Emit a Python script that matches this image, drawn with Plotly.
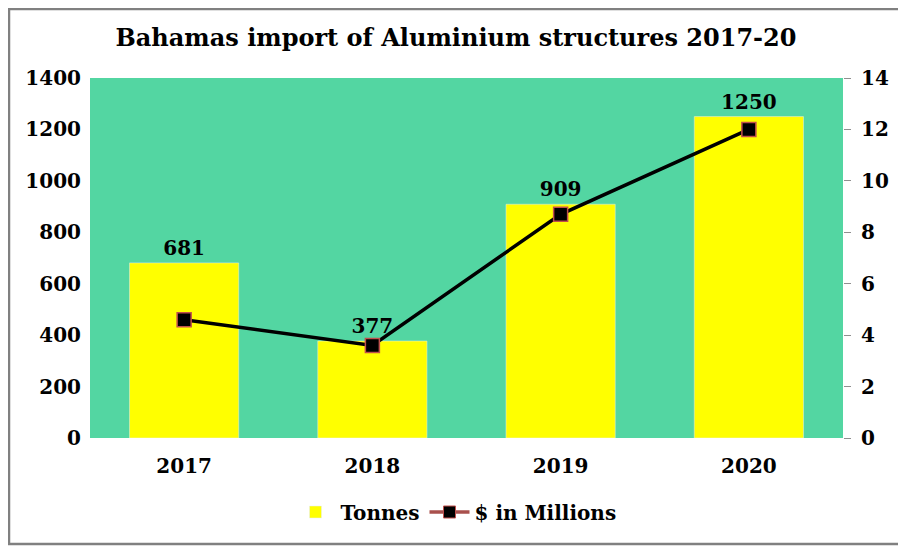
import plotly.graph_objects as go

years = ["2017", "2018", "2019", "2020"]
tonnes = [681, 377, 909, 1250]
usd_millions = [4.6, 3.6, 8.7, 12.0]

# page body has an 8px margin, so the figure is drawn a little smaller
W, H = 898, 538
L, R, T, B = 82, 63, 70, 108
pw = W - L - R
ph = H - T - B

font = "DejaVu Serif"

fig = go.Figure()

fig.add_trace(go.Bar(x=years, y=tonnes, name="Tonnes", marker_color="#FFFF00",
                     width=0.58, text=tonnes, textposition="outside",
                     textfont=dict(family=font, size=20, color="#000000"),
                     cliponaxis=False))

fig.add_trace(go.Scatter(x=years, y=usd_millions, yaxis="y2", mode="lines+markers",
                         name="$ in Millions", showlegend=False,
                         line=dict(color="#000000", width=3.5),
                         marker=dict(symbol="square", size=14, color="#000000",
                                     line=dict(color="#C0504D", width=1.5))))

# legend entry only (Excel shows the series line in red-brown)
fig.add_trace(go.Scatter(x=[None], y=[None], yaxis="y2", mode="lines+markers",
                         name="$ in Millions",
                         line=dict(color="#A9504D", width=3.5),
                         marker=dict(symbol="square", size=12, color="#000000",
                                     line=dict(color="#C0504D", width=1))))

# outer frame
fig.add_shape(type="rect", xref="paper", yref="paper",
              x0=(1 - L) / pw, x1=(W - 2 - L) / pw,
              y0=(2 - B) / ph, y1=(H - B - 1) / ph,
              line=dict(color="#808080", width=2.5), fillcolor="rgba(0,0,0,0)", layer="below")

fig.update_layout(
    width=W, height=H,
    margin=dict(l=L, r=R, t=T, b=B, autoexpand=False),
    paper_bgcolor="#FFFFFF",
    plot_bgcolor="#53D6A2",
    title=dict(text="<b>Bahamas import of Aluminium structures 2017-20</b>",
               x=(448 - L) / pw, xref="paper", xanchor="center", y=1 - 30 / H, yanchor="middle",
               font=dict(family=font, size=24, color="#000000")),
    font=dict(family=font, size=20, color="#000000"),
    xaxis=dict(showgrid=False, showline=False, ticks="", ticklabelstandoff=14,
               tickfont=dict(family=font, size=20, color="#000000"),
               tickprefix="<b>", ticksuffix="</b>"),
    yaxis=dict(range=[0, 1400], dtick=200, showgrid=False, zeroline=False,
               showline=False, ticks="", ticklabelstandoff=8,
               tickfont=dict(family=font, size=20, color="#000000"),
               tickprefix="<b>", ticksuffix="</b>"),
    yaxis2=dict(range=[0, 14], dtick=2, overlaying="y", side="right",
                showgrid=False, zeroline=False, showline=False,
                ticks="outside", ticklen=7, tickcolor="#909090", ticklabelstandoff=6,
                tickfont=dict(family=font, size=20, color="#000000"),
                tickprefix="<b>", ticksuffix="</b>"),
    legend=dict(orientation="h", x=(448 - L) / pw, xanchor="center", y=(H - B - 504) / ph,
                yanchor="middle", itemwidth=40,
                font=dict(family=font, size=20, color="#000000")),
)

fig.update_traces(texttemplate="<b>%{text}</b>", selector=dict(type="bar"))
fig.for_each_trace(lambda t: t.update(name="<b>" + t.name + "</b>"))

fig.write_html("out.html")
